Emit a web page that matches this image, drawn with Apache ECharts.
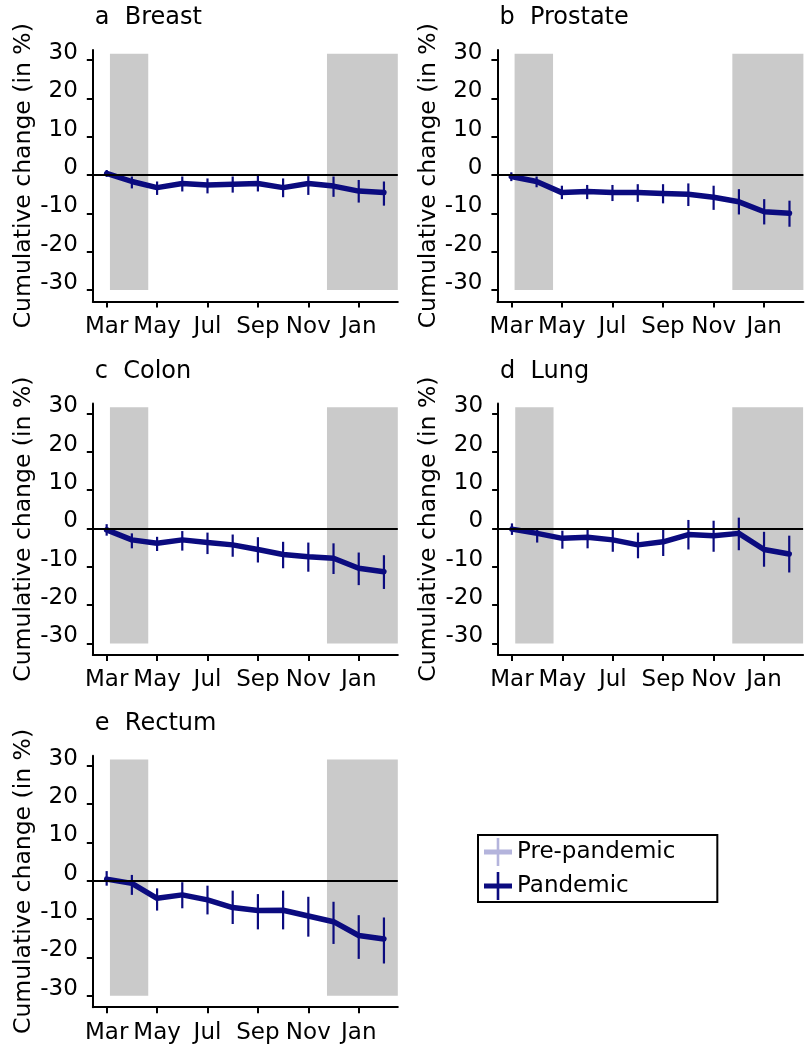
<!DOCTYPE html>
<html>
<head>
<meta charset="utf-8">
<script src="https://cdn.jsdelivr.net/npm/echarts@6/dist/echarts.min.js"></script>
<style>html,body{margin:0;padding:0;background:#fff}#c{width:806px;height:1046px}</style>
</head>
<body>
<div id="c"></div>
<script>
// Months (x index 0 = Mar ... 11 = Feb)
var months = ['Mar','Apr','May','Jun','Jul','Aug','Sep','Oct','Nov','Dec','Jan','Feb'];
var tickMonths = [0, 2, 4, 6, 8, 10];
var yTicks = [-30, -20, -10, 0, 10, 20, 30];
// Shaded lockdown periods (month positions)
var bandRanges = [[0.13, 1.65], [8.74, 11.55]];

var panelTitles = ['a  Breast', 'b  Prostate', 'c  Colon', 'd  Lung', 'e  Rectum'];

var breastMean  = [0.4, -1.7, -3.3, -2.2, -2.6, -2.4, -2.2, -3.3, -2.2, -2.9, -4.2, -4.6];
var breastLow   = [-0.5, -3.5, -5.2, -4.3, -4.8, -4.6, -4.3, -5.8, -5.2, -5.7, -7.2, -8.0];
var breastHigh  = [1.3, -0.4, -1.7, -0.4, -0.9, -0.4, -0.2, -0.9, -0.3, -0.4, -1.3, -1.7];

var prostateMean = [-0.4, -1.7, -4.6, -4.3, -4.6, -4.6, -4.8, -5.0, -5.8, -7.0, -9.6, -10.0];
var prostateLow  = [-1.6, -3.2, -6.3, -6.3, -6.8, -7.0, -7.4, -8.1, -9.1, -10.3, -12.9, -13.5];
var prostateHigh = [0.7, -0.4, -2.8, -2.6, -2.6, -2.4, -2.4, -2.2, -2.8, -3.7, -6.3, -6.7];

var colonMean = [-0.4, -3.0, -3.9, -3.0, -3.7, -4.3, -5.5, -6.8, -7.4, -7.8, -10.4, -11.3];
var colonLow  = [-1.9, -5.2, -5.9, -5.8, -6.7, -7.4, -8.9, -10.4, -11.3, -11.9, -14.8, -15.8];
var colonHigh = [1.1, -1.3, -2.2, -0.7, -1.1, -1.6, -2.3, -3.5, -3.7, -3.9, -6.3, -7.0];

var lungMean = [-0.2, -1.3, -2.6, -2.3, -3.0, -4.3, -3.5, -1.6, -1.9, -1.3, -5.5, -6.7];
var lungLow  = [-1.7, -3.7, -5.3, -5.2, -6.1, -7.8, -7.2, -5.5, -6.1, -5.7, -10.0, -11.5];
var lungHigh = [1.3, 0.0, -0.6, 0.0, -0.2, -1.1, 0.0, 2.2, 2.0, 2.8, -0.9, -1.9];

var rectumMean = [0.4, -0.7, -4.6, -3.7, -5.0, -7.0, -7.8, -7.7, -9.2, -10.7, -14.3, -15.2];
var rectumLow  = [-1.3, -3.7, -7.8, -7.2, -8.8, -11.3, -12.7, -12.7, -14.6, -16.5, -20.4, -21.6];
var rectumHigh = [2.5, 1.5, -2.0, -0.4, -1.3, -2.6, -3.5, -2.6, -4.2, -5.5, -9.0, -9.6];

var panelData = [
  [breastMean, breastLow, breastHigh],
  [prostateMean, prostateLow, prostateHigh],
  [colonMean, colonLow, colonHigh],
  [lungMean, lungLow, lungHigh],
  [rectumMean, rectumLow, rectumHigh]
];

// layout
var grids = [
  {left: 92.8, top: 50.0, width: 305, height: 251.5},
  {left: 497.4, top: 50.0, width: 306, height: 251.5},
  {left: 92.8, top: 403.4, width: 305, height: 251.5},
  {left: 498.1, top: 403.4, width: 305, height: 251.5},
  {left: 92.8, top: 755.7, width: 305, height: 251.5}
];

var FONT = 'DejaVu Sans';
var NAVY = '#0b0b7f';
var LAV = '#b4b4dc';

var xAxes = [], yAxes = [], series = [], titles = [];
grids.forEach(function (g, i) {
  xAxes.push({
    type: 'value', gridIndex: i, min: -0.55, max: 11.55,
    splitLine: {show: false},
    axisLine: {onZero: false, lineStyle: {color: '#000', width: 2}},
    axisTick: {show: true, length: 6, lineStyle: {color: '#000', width: 2}, customValues: tickMonths},
    axisLabel: {customValues: tickMonths, color: '#000', fontFamily: FONT, fontSize: 23, margin: 14,
      formatter: function (v) { return months[Math.round(v)]; }}
  });
  yAxes.push({
    type: 'value', gridIndex: i, min: -33, max: 32.6,
    name: 'Cumulative change (in %)', nameLocation: 'middle', nameRotate: 90, nameGap: 57,
    nameTextStyle: {color: '#000', fontFamily: FONT, fontSize: 23.5},
    splitLine: {show: false},
    axisLine: {show: true, onZero: false, lineStyle: {color: '#000', width: 2}},
    axisTick: {show: true, length: 6, lineStyle: {color: '#000', width: 2}, customValues: yTicks},
    axisLabel: {customValues: yTicks, color: '#000', fontFamily: FONT, fontSize: 23, margin: 15,
      verticalAlign: 'bottom', lineHeight: 14}
  });
  titles.push({
    text: panelTitles[i], left: g.left + 2, top: g.top - 44, padding: 0,
    textStyle: {color: '#000', fontFamily: FONT, fontSize: 24, fontWeight: 'normal'}
  });
  var d = panelData[i];
  // background bands + zero line
  series.push({
    type: 'line', xAxisIndex: i, yAxisIndex: i, data: [], silent: true, z: 1,
    markArea: {silent: true, itemStyle: {color: '#cacaca'},
      data: bandRanges.map(function (b) { return [{coord: [b[0], -30]}, {coord: [b[1], 31.6]}]; })},
    markLine: {silent: true, symbol: 'none', label: {show: false},
      lineStyle: {color: '#000', width: 2, type: 'solid'}, data: [{yAxis: 0}]}
  });
  // pandemic line
  series.push({
    name: 'Pandemic', type: 'line', xAxisIndex: i, yAxisIndex: i, z: 3,
    data: d[0].map(function (v, k) { return [k, v]; }),
    symbol: 'none', color: NAVY,
    lineStyle: {color: NAVY, width: 5.5, cap: 'round', join: 'round'}
  });
  // error bars
  series.push({
    name: 'Pandemic', type: 'custom', xAxisIndex: i, yAxisIndex: i, z: 4,
    data: d[1].map(function (lo, k) { return [k, lo, d[2][k]]; }),
    encode: {x: 0, y: [1, 2]},
    itemStyle: {color: NAVY},
    renderItem: function (params, api) {
      var p1 = api.coord([api.value(0), api.value(1)]);
      var p2 = api.coord([api.value(0), api.value(2)]);
      return {type: 'line', shape: {x1: p1[0], y1: p1[1], x2: p2[0], y2: p2[1]},
        style: {stroke: NAVY, lineWidth: 2.2}};
    }
  });
});
series.push({name: 'Pre-pandemic', type: 'line', xAxisIndex: 4, yAxisIndex: 4, data: [], color: LAV,
  lineStyle: {color: LAV}});

var crossIcon = 'path://M0,11.5L28,11.5L28,16.5L0,16.5Z M12.7,0L15.3,0L15.3,28L12.7,28Z';

var option = {
  backgroundColor: '#fff',
  animation: false,
  title: titles,
  grid: grids,
  xAxis: xAxes,
  yAxis: yAxes,
  legend: {
    left: 478, top: 835, orient: 'vertical',
    data: [{name: 'Pre-pandemic', icon: crossIcon, itemStyle: {color: LAV}},
           {name: 'Pandemic', icon: crossIcon, itemStyle: {color: NAVY}}],
    itemWidth: 28, itemHeight: 28, itemGap: 6,
    padding: [3, 42, 2, 6],
    borderColor: '#000', borderWidth: 2,
    selectedMode: false,
    textStyle: {color: '#000', fontFamily: FONT, fontSize: 23}
  },
  series: series
};
var chart = echarts.init(document.getElementById('c'), null, {renderer: 'canvas'});
chart.setOption(option);
</script>
</body>
</html>
